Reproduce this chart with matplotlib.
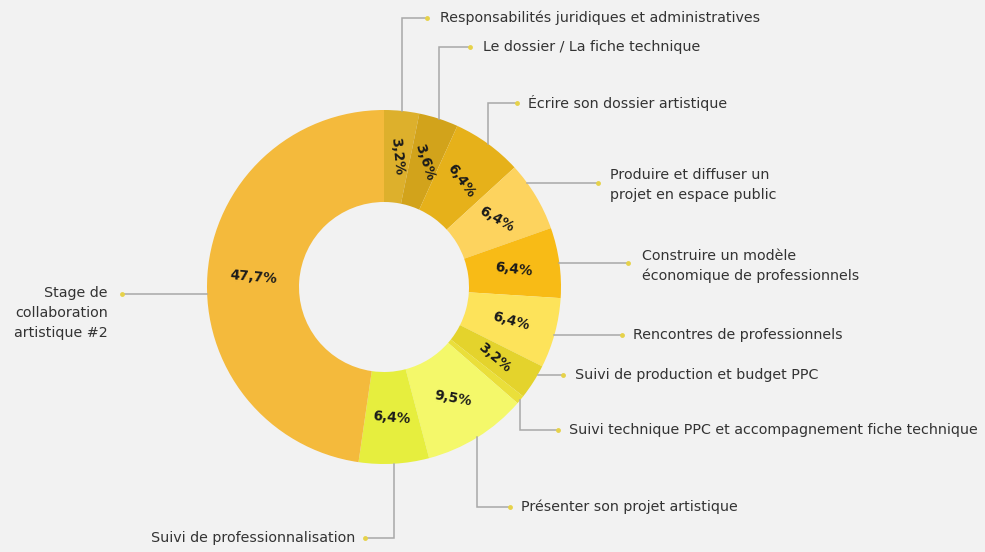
import numpy as np
import matplotlib
matplotlib.use("Agg")
from matplotlib import pyplot as plt

# ---------------- donnees ----------------
labels = [
    "Responsabilités juridiques et administratives",
    "Le dossier / La fiche technique",
    "Écrire son dossier artistique",
    "Produire et diffuser un\nprojet en espace public",
    "Construire un modèle\néconomique de professionnels",
    "Rencontres de professionnels",
    "Suivi de production et budget PPC",
    "Suivi technique PPC et accompagnement fiche technique",
    "Présenter son projet artistique",
    "Suivi de professionnalisation",
    "Stage de\ncollaboration\nartistique #2",
]
values = [3.2, 3.6, 6.4, 6.4, 6.4, 6.4, 3.2, 0.8, 9.5, 6.4, 47.7]
pct_text = ["3,2%", "3,6%", "6,4%", "6,4%", "6,4%", "6,4%", "3,2%", "", "9,5%", "6,4%", "47,7%"]

colors = ["#DDB02C", "#D2A31B", "#E6B11A", "#FDD35E", "#F8BB16", "#FDE35A",
          "#E4D32C", "#EADF3A", "#F4F86A", "#E6EE3E", "#F4BA3C"]

# ---------------- mise en page (pixels) ----------------
cx, cy = 384, 287
R_out, R_in = 177, 85
pct_rot = [-84, -72, -54, -30, -7, -15, -40, 0, -10, -5, -5]

# (mode, y du trait, x du point, x du texte, y du texte, alignement)
lab_pos = [
    ("v", 18, 427, 440, 18, "left"),
    ("v", 47, 470, 483, 47, "left"),
    ("v", 103, 517, 528, 103, "left"),
    ("h", 183, 598, 610, 185, "left"),
    ("h", 263, 628, 642, 266, "left"),
    ("h", 335, 622, 633, 335, "left"),
    ("h", 375, 563, 575, 375, "left"),
    ("v", 430, 558, 569, 430, "left"),
    ("v", 507, 510, 521, 507, "left"),
    ("v", 538, 365, 355, 538, "right"),
    ("h", 294, 122, 108, 313, "right"),
]

bg = "#F2F2F2"
fig = plt.figure(figsize=(9.85, 5.52), dpi=100, facecolor=bg)
ax = fig.add_axes([0, 0, 1, 1])
ax.set_facecolor(bg)

wedges, _ = ax.pie(values, colors=colors, center=(cx, cy), radius=R_out,
                   startangle=-90, counterclock=True,
                   wedgeprops=dict(width=R_out - R_in, linewidth=0))

ax.set_xlim(0, 985)
ax.set_ylim(552, 0)
ax.set_aspect("equal")
ax.axis("off")

line_col = "#A8A8A8"
dot_col = "#E6D24A"

for w, txt, rot, lab, (mode, ly, dx, tx, ty, ha) in zip(wedges, pct_text, pct_rot, labels, lab_pos):
    mid = np.deg2rad((w.theta1 + w.theta2) / 2)
    rm = (R_out + R_in) / 2
    if txt:
        ax.text(cx + rm * np.cos(mid), cy + rm * np.sin(mid), txt, rotation=rot,
                ha="center", va="center", fontsize=9.8, fontweight="bold", color="#1A1A1A")

    if mode == "v":
        x0 = cx + R_out * np.cos(mid)
        y0 = cy + R_out * np.sin(mid)
        ax.plot([x0, x0, dx], [y0, ly, ly], color=line_col, lw=1.1, solid_joinstyle="miter")
    else:
        side = 1 if dx > cx else -1
        x0 = cx + side * np.sqrt(max(R_out ** 2 - (ly - cy) ** 2, 0))
        ax.plot([x0, dx], [ly, ly], color=line_col, lw=1.1)
    ax.plot(dx, ly, "o", color=dot_col, ms=3.5, mec="none")
    ax.text(tx, ty, lab, ha=ha, va="center", fontsize=10.3, color="#333333",
            linespacing=1.55)

plt.savefig("out.png", dpi=100, facecolor=bg)
